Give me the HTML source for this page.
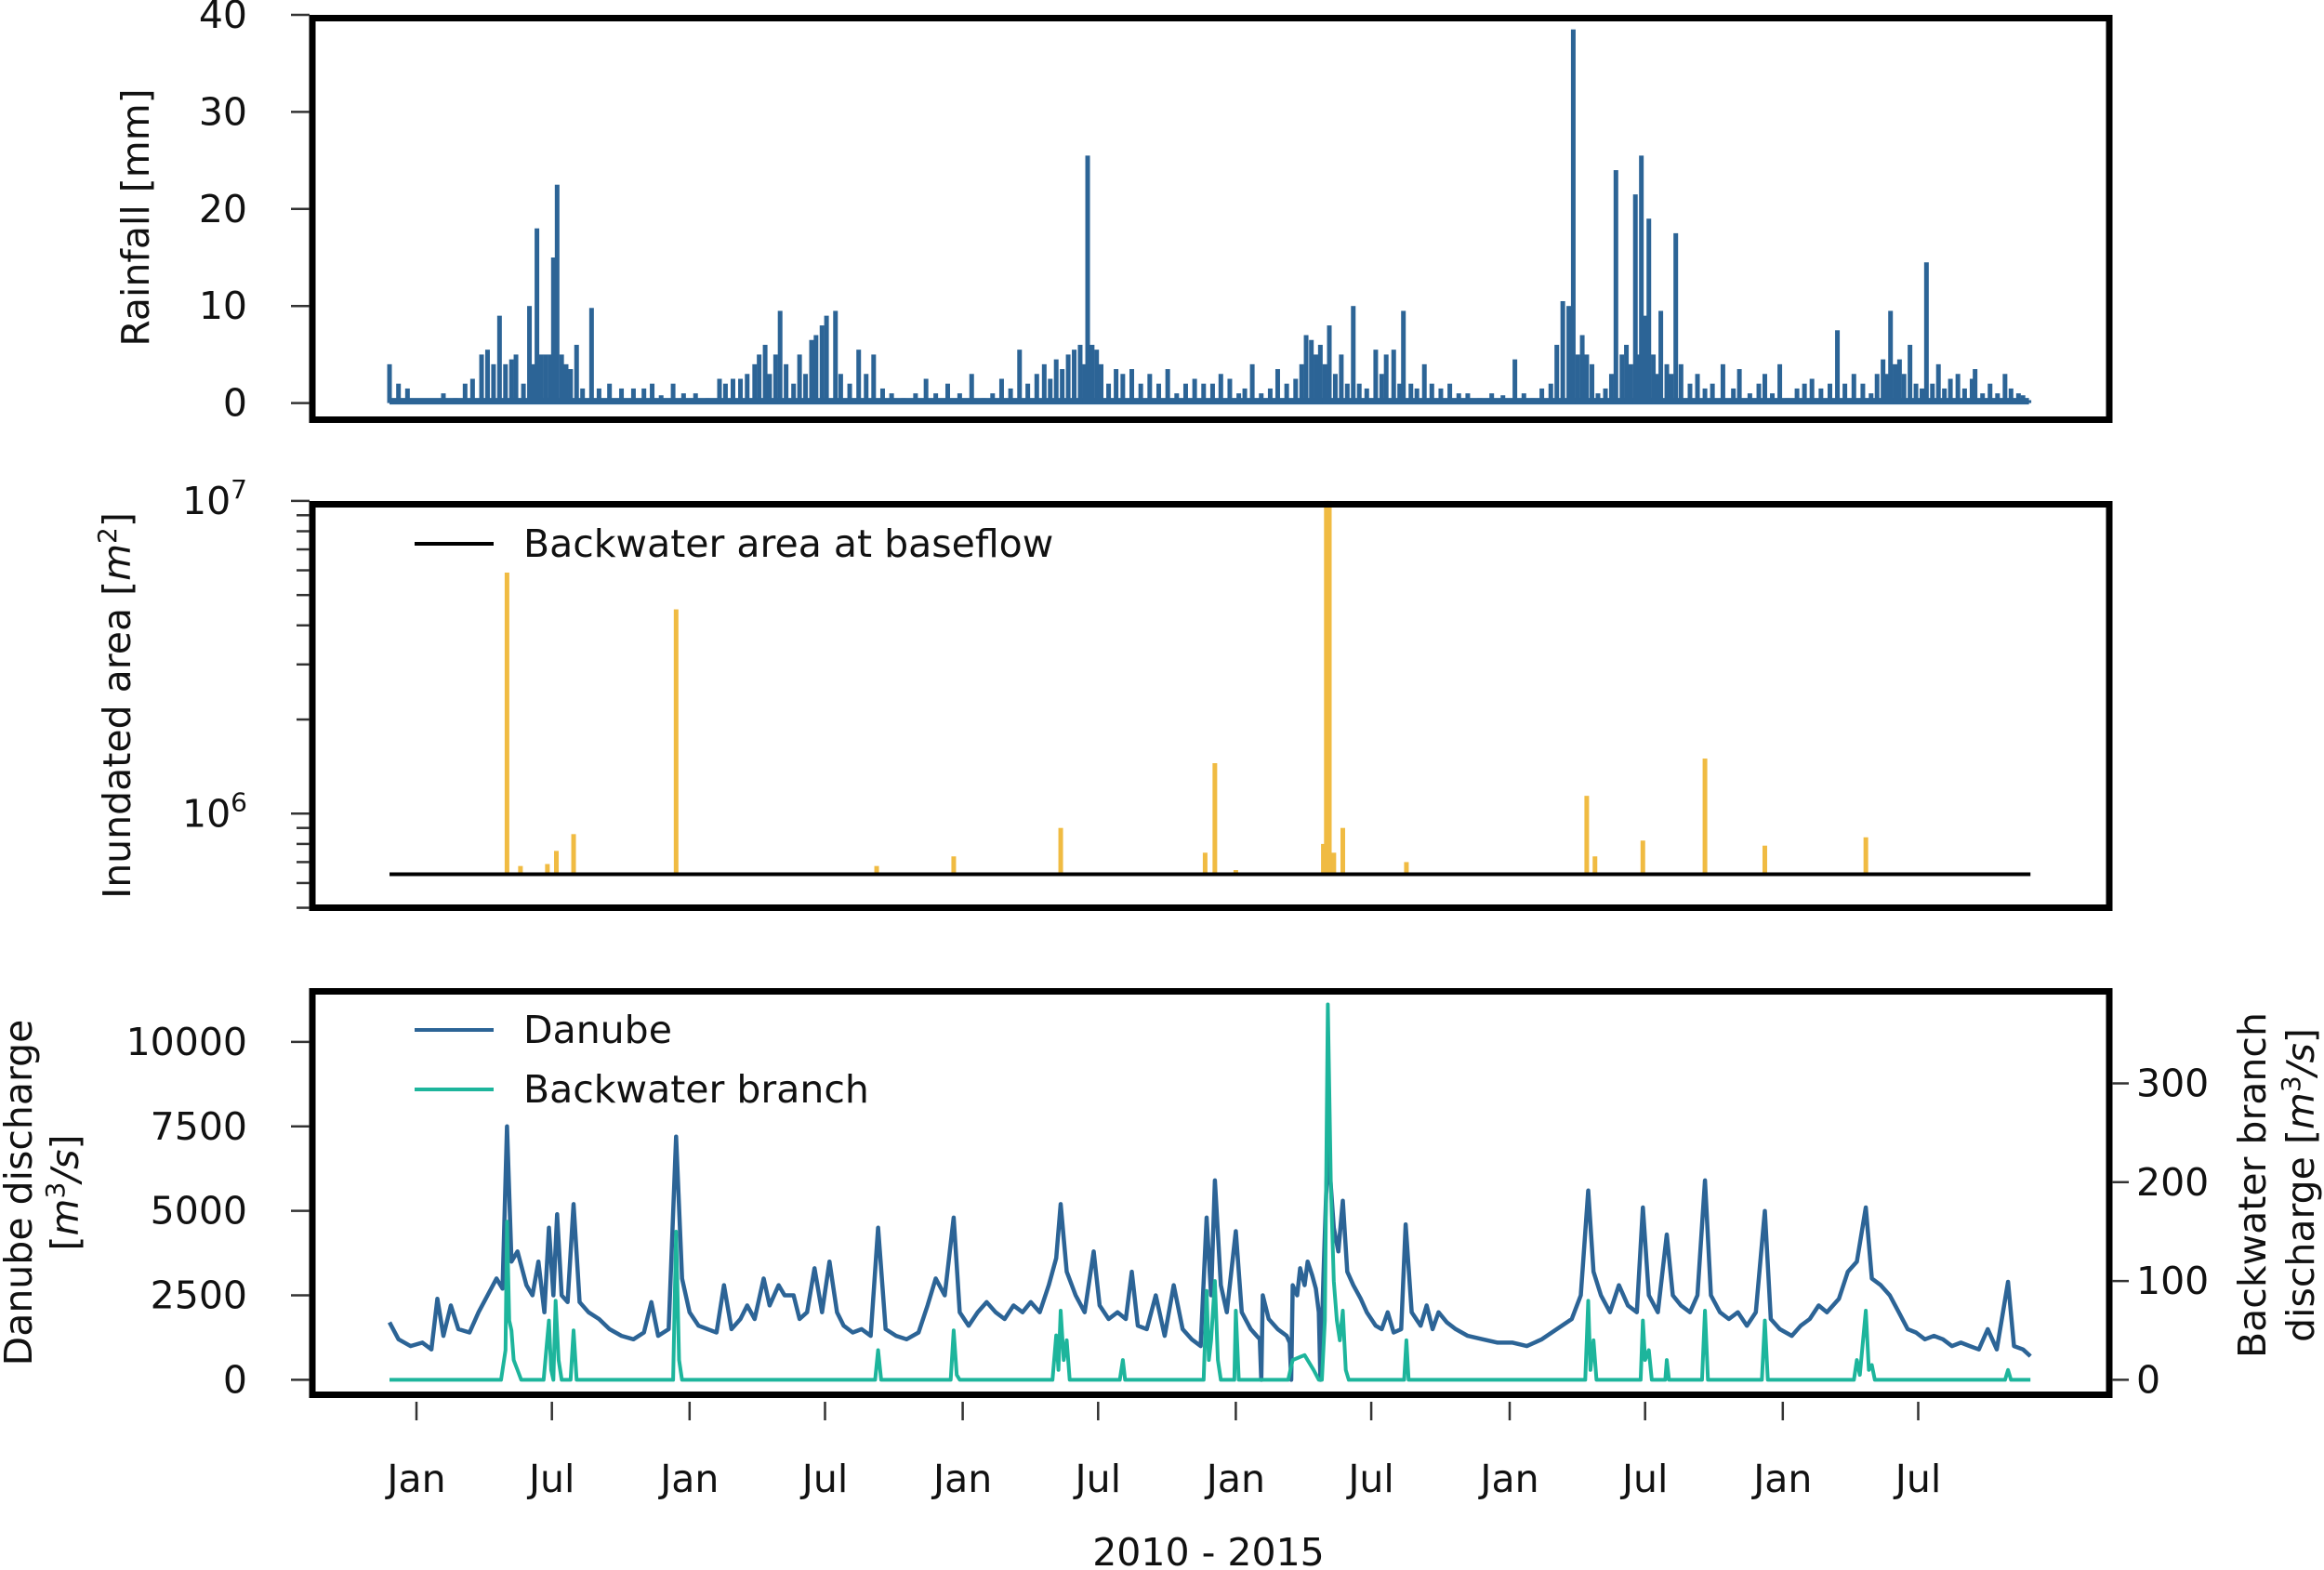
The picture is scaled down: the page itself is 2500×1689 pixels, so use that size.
<!DOCTYPE html>
<html><head><meta charset="utf-8"><style>
html,body{margin:0;padding:0;background:#fff;}
svg{display:block;font-family:"DejaVu Sans","Liberation Sans",sans-serif;}
</style></head><body>
<svg id="chart" width="2500" height="1689" viewBox="0 0 2500 1689" xmlns="http://www.w3.org/2000/svg">
<g id="g-rain"></g>
<g id="g-area"></g>
<g id="g-q"></g>
<g id="g-x"></g>
</svg>
<script>
// ---- data (days since 2010-01-01) ----
const rainDays=[-36,-24,-12,36,52,65,75,87,95,103,111,119,127,133,143,151,157,161,167,173,179,183,188,194,200,206,214,222,234,244,258,274,290,304,315,327,343,357,373,389,405,413,423,433,442,452,458,466,472,480,486,494,504,512,520,528,534,542,548,560,567,579,591,601,611,623,635,651,667,681,694,710,726,742,758,770,782,794,806,817,829,839,847,855,863,871,879,887,893,897,903,909,915,925,935,944,956,968,980,992,1004,1016,1028,1040,1052,1064,1075,1087,1099,1107,1117,1129,1141,1151,1163,1175,1183,1189,1196,1202,1208,1214,1220,1228,1236,1244,1252,1260,1270,1282,1290,1296,1306,1314,1319,1329,1337,1347,1357,1369,1381,1393,1405,1421,1437,1452,1468,1480,1492,1504,1516,1524,1532,1540,1546,1552,1558,1564,1571,1579,1589,1597,1603,1611,1617,1623,1629,1633,1637,1643,1647,1653,1659,1663,1671,1677,1683,1690,1702,1712,1722,1732,1746,1760,1768,1782,1794,1802,1812,1822,1832,1845,1855,1865,1877,1889,1899,1909,1921,1933,1944,1952,1960,1966,1970,1976,1982,1988,1996,2004,2012,2018,2026,2034,2042,2050,2060,2069,2079,2083,2093,2103,2113,2123,2131,2141,2147,2155];
const rainVals=[4,2,1.5,1,0.5,2,2.5,5,5.5,4,9,4,4.5,5,2,10,4,18,5,5,5,15,22.5,5,4,3.5,6,1.5,9.8,1.5,2,1.5,1.5,1.5,2,0.8,2,1,1,0.5,2.5,2,2.5,2.5,3,4,5,6,3,5,9.5,4,2,5,3,6.5,7,8,9,9.5,3,2,5.5,3,5,1.5,1,0.5,1,2.5,1,2,1,3,0.5,1,2.5,1.5,5.5,2,3,4,2.5,4.5,3.5,5,5.5,6,4,25.5,6,5.5,4,2,3.5,3,3.5,2,3,2,3.5,1,2,2.5,2,2,3,2.5,1,1.5,4,1,1.5,3.5,2,2.5,4,7,6.5,5,6,4,8,3,5,2,10,2,1.5,5.5,3,5,5.5,2,9.5,2,1.5,4,2,1.5,2,1,1,0.5,1,0.8,4.5,1,0.5,1.5,2,6,10.5,10,38.5,5,7,5,4,1,1.5,3,24,5,6,4,21.5,5,25.5,9,19,5,3,9.5,4,3,17.5,4,2,3,1.5,2,4,1.5,3.5,1,2,3,1,4,0.5,1.5,2,2.5,1.5,2,7.5,2,3,2,1,3,4.5,3,9.5,4,4.5,3,6,2,1.5,14.5,2,4,1.5,2.5,3,1.5,2.5,3.5,1,2,1,3,1.5,1,0.8,0.3];
const rainTicks=[0,10,20,30,40];

const baseArea=640000;
const areaDays=[121,139,175,187,210,347,615,718,861,1054,1067,1095,1212,1216,1220,1226,1238,1323,1564,1575,1639,1722,1802,1937];
const areaVals=[5900000,680000,690000,760000,860000,4500000,680000,730000,900000,750000,1450000,660000,800000,10000000,10000000,750000,900000,700000,1140000,730000,820000,1500000,790000,840000];

const danDays=[-36,-24,-8,8,20,28,36,46,56,71,83,95,107,115,121,127,135,147,155,163,171,177,183,188,194,202,210,218,230,244,258,274,290,304,314,323,337,347,355,365,377,389,401,411,421,433,442,452,464,472,484,492,504,512,522,532,542,552,562,571,583,595,607,617,627,641,655,671,683,694,706,718,726,738,750,762,774,786,798,810,821,833,845,855,861,869,881,893,905,913,925,937,948,956,964,976,988,1000,1012,1024,1036,1048,1056,1062,1067,1075,1083,1095,1103,1115,1123,1127,1129,1131,1139,1151,1163,1167,1169,1171,1177,1181,1187,1191,1197,1202,1206,1208,1212,1218,1226,1232,1238,1244,1252,1262,1270,1282,1290,1298,1306,1316,1322,1330,1342,1350,1358,1366,1377,1389,1405,1425,1445,1465,1484,1504,1524,1544,1556,1566,1573,1583,1595,1607,1619,1631,1639,1647,1659,1671,1679,1690,1702,1712,1722,1730,1742,1754,1766,1778,1790,1802,1810,1822,1838,1850,1862,1874,1885,1901,1913,1925,1937,1945,1957,1969,1981,1993,2004,2016,2028,2040,2052,2064,2076,2088,2100,2112,2127,2135,2147,2157];
const danVals=[1700,1200,1000,1100,900,2400,1300,2200,1500,1400,2000,2500,3000,2700,7500,3500,3800,2800,2500,3500,2000,4500,2500,4900,2500,2300,5200,2300,2000,1800,1500,1300,1200,1400,2300,1300,1500,7200,3000,2000,1600,1500,1400,2800,1500,1800,2200,1800,3000,2200,2800,2500,2500,1800,2000,3300,2000,3500,2000,1600,1400,1500,1300,4500,1500,1300,1200,1400,2200,3000,2500,4800,2000,1600,2000,2300,2000,1800,2200,2000,2300,2000,2800,3600,5200,3200,2500,2000,3800,2200,1800,2000,1800,3200,1600,1500,2500,1300,2800,1500,1200,1000,4800,2500,5900,2800,2000,4400,2000,1500,1300,1200,0,2500,1800,1500,1300,1100,0,2800,2500,3300,2800,3500,3100,2700,2000,0,3000,7000,4500,3800,5300,3200,2800,2400,2000,1600,1500,2000,1400,1500,4600,2000,1600,2200,1500,2000,1700,1500,1300,1200,1100,1100,1000,1200,1500,1800,2500,5600,3200,2500,2000,2800,2200,2000,5100,2500,2000,4300,2500,2200,2000,2500,5900,2500,2000,1800,2000,1600,2000,5000,1800,1500,1300,1600,1800,2200,2000,2400,3200,3500,5100,3000,2800,2500,2000,1500,1400,1200,1300,1200,1000,1100,1000,900,1500,900,2900,1000,900,700];

const bwDays=[-36,113,119,121,124,127,130,135,140,170,177,180,183,186,190,194,206,210,214,343,347,351,355,613,617,621,714,718,722,726,850,855,858,861,865,869,873,940,944,947,1052,1056,1059,1062,1067,1071,1075,1093,1095,1099,1165,1171,1187,1199,1206,1210,1214,1218,1222,1226,1230,1234,1238,1242,1246,1320,1323,1326,1562,1566,1569,1573,1577,1636,1639,1642,1647,1651,1669,1671,1674,1718,1722,1726,1798,1802,1806,1921,1925,1929,1937,1941,1945,1949,2123,2127,2131,2157];
const bwVals=[0,0,30,160,60,50,20,10,0,0,60,10,0,80,20,0,0,50,0,0,150,20,0,0,30,0,0,50,5,0,0,45,10,70,20,40,0,0,20,0,0,90,20,40,100,20,0,0,70,0,0,20,25,10,0,0,60,380,200,100,60,40,70,10,0,0,40,0,0,80,10,40,0,0,60,20,30,0,0,20,0,0,70,0,0,60,0,0,20,5,70,10,15,0,0,10,0,0];
const qLeftTicks=[0,2500,5000,7500,10000];
const qRightTicks=[0,100,200,300];
const xTickDays=[0,181,365,546,730,911,1095,1276,1461,1642,1826,2007];
const xTickLabels=["Jan","Jul","Jan","Jul","Jan","Jul","Jan","Jul","Jan","Jul","Jan","Jul"];

// ---- scales ----
const NS="http://www.w3.org/2000/svg";
const FS=41;
const xS=d=>448+d*294/365.25;
const yRain=v=>433.6-v*10.44;
const yArea=v=>875.3-(Math.log10(v)-6)*336.4;
const yQL=v=>1484.4-v*0.03635;
const yQR=v=>1484.4-v*1.063;
function mk(tag,attrs,parent){const e=document.createElementNS(NS,tag);for(const k in attrs)e.setAttribute(k,attrs[k]);parent.appendChild(e);return e;}
const gR=document.getElementById('g-rain'),gA=document.getElementById('g-area'),gQ=document.getElementById('g-q'),gX=document.getElementById('g-x');
const BLUE="#2c6496",TEAL="#1db59c",GOLD="#f0bb42";

function frame(g,y0,y1,name){const r=mk('rect',{x:336,y:y0+3.5,width:1933,height:y1-y0-7,fill:'none',stroke:'#000','stroke-width':7},g);

}
function ytick(g,y,label,name,right,len){
const t=mk('line',{x1:right?2272:(333-(len||20)),x2:right?2290:333,y1:y,y2:y,stroke:'#333','stroke-width':2.5},g);


if(label!==null){const tx=mk('text',{x:right?2298:266,y:y+14,'font-size':FS,'text-anchor':right?'start':'end',fill:'#111'},g);tx.innerHTML=label;

}}
function rotLabel(g,x,y,html,name){const t=mk('text',{x:x,y:y,'font-size':FS,'text-anchor':'middle',fill:'#111',transform:`rotate(-90 ${x} ${y})`},g);t.innerHTML=html;

}

// ---- rainfall ----
const rb=mk('line',{x1:xS(rainDays[0]),x2:xS(rainDays[rainDays.length-1]),y1:yRain(0)-2,y2:yRain(0)-2,stroke:BLUE,'stroke-width':7},gR);


rainDays.forEach((d,i)=>{const b=mk('rect',{x:xS(d)-2.5,y:yRain(rainVals[i]),width:5,height:yRain(0)-yRain(rainVals[i]),fill:BLUE},gR);

});
frame(gR,16,455,'rainfall-frame');
rainTicks.forEach(v=>ytick(gR,yRain(v),String(v),'rainfall-y'));
rotLabel(gR,160,234,'Rainfall [mm]','rainfall-y-title');

// ---- inundated area ----
areaDays.forEach((d,i)=>{const b=mk('rect',{x:xS(d)-2.5,y:yArea(areaVals[i]),width:5,height:yArea(baseArea)-yArea(areaVals[i]),fill:GOLD},gA);

});
const bl=mk('line',{x1:xS(-36),x2:xS(2157),y1:yArea(baseArea),y2:yArea(baseArea),stroke:'#000','stroke-width':4},gA);


frame(gA,539,980,'area-frame');
[5e5,6e5,7e5,8e5,9e5,2e6,3e6,4e6,5e6,6e6,7e6,8e6,9e6].forEach(v=>ytick(gA,yArea(v),null,'area-minor',false,14));
ytick(gA,yArea(1e6),'10<tspan dy="-17" font-size="28">6</tspan>','area-y-1e6');
ytick(gA,yArea(1e7),'10<tspan dy="-17" font-size="28">7</tspan>','area-y-1e7');
rotLabel(gA,140,759,'Inundated area [<tspan font-style="italic">m</tspan><tspan dy="-15" font-size="28">2</tspan><tspan dy="15">]</tspan>','area-y-title');
let l=mk('line',{x1:446,x2:531,y1:585,y2:585,stroke:'#000','stroke-width':4},gA);


let t=mk('text',{x:563,y:599,'font-size':FS,fill:'#111'},gA);t.textContent='Backwater area at baseflow';



// ---- discharge ----
const dp=mk('path',{d:danDays.map((d,i)=>(i?'L':'M')+xS(d).toFixed(1)+','+yQL(danVals[i]).toFixed(1)).join(''),fill:'none',stroke:BLUE,'stroke-width':4.5,'stroke-linejoin':'round'},gQ);


const bp=mk('path',{d:bwDays.map((d,i)=>(i?'L':'M')+xS(d).toFixed(1)+','+yQR(bwVals[i]).toFixed(1)).join(''),fill:'none',stroke:TEAL,'stroke-width':4,'stroke-linejoin':'round'},gQ);


frame(gQ,1063,1504,'discharge-frame');
qLeftTicks.forEach(v=>ytick(gQ,yQL(v),String(v),'danube-y'));
qRightTicks.forEach(v=>ytick(gQ,yQR(v),String(v),'backwater-y',true));
rotLabel(gQ,34,1283,'Danube discharge','danube-y-title-1');
rotLabel(gQ,84,1283,'[<tspan font-style="italic">m</tspan><tspan dy="-15" font-size="28">3</tspan><tspan dy="15" font-style="italic">/s</tspan>]','danube-y-title-2');
rotLabel(gQ,2437,1275,'Backwater branch','backwater-y-title-1');
rotLabel(gQ,2489,1275,'discharge [<tspan font-style="italic">m</tspan><tspan dy="-15" font-size="28">3</tspan><tspan dy="15" font-style="italic">/s</tspan>]','backwater-y-title-2');
l=mk('line',{x1:446,x2:531,y1:1108,y2:1108,stroke:BLUE,'stroke-width':4},gQ);


t=mk('text',{x:563,y:1122,'font-size':FS,fill:'#111'},gQ);t.textContent='Danube';


l=mk('line',{x1:446,x2:531,y1:1172,y2:1172,stroke:TEAL,'stroke-width':4},gQ);


t=mk('text',{x:563,y:1186,'font-size':FS,fill:'#111'},gQ);t.textContent='Backwater branch';



// ---- x axis ----
xTickDays.forEach((d,i)=>{const tk=mk('line',{x1:xS(d),x2:xS(d),y1:1508,y2:1528,stroke:'#333','stroke-width':2.5},gX);


const tl=mk('text',{x:xS(d),y:1605,'font-size':FS,'text-anchor':'middle',fill:'#111'},gX);tl.textContent=xTickLabels[i];

});
t=mk('text',{x:1300,y:1684,'font-size':FS,'text-anchor':'middle',fill:'#111'},gX);t.textContent='2010 - 2015';


</script>
</body></html>
